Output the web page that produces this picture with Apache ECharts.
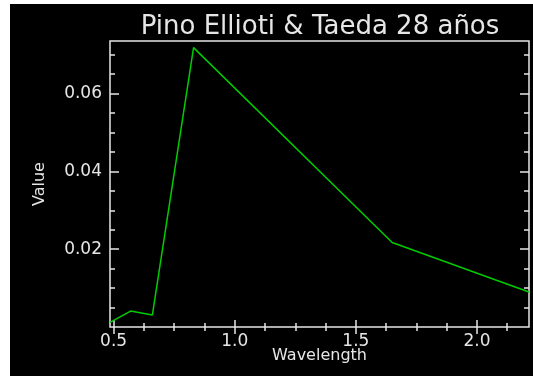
<!DOCTYPE html>
<html>
<head>
<meta charset="utf-8">
<script src="https://cdn.jsdelivr.net/npm/echarts@6/dist/echarts.min.js"></script>
<style>
  html, body { margin: 0; padding: 0; background: #fff; }
  .chart { position: absolute; left: 10px; top: 4px; width: 523px; height: 372px; background: #000; }
</style>
</head>
<body>
<div class="chart"></div>
<script>
// 数据
var wavelength = [0.485, 0.57, 0.66, 0.83, 1.65, 2.215];
var value = [0.0012, 0.0041, 0.0031, 0.0718, 0.0217, 0.0090];
// 刻度
var xTicks = [0.5, 1.0, 1.5, 2.0];
var xMinorTicks = [0.625, 0.75, 0.875, 1.125, 1.25, 1.375, 1.625, 1.75, 1.875, 2.125];
var yTicks = [0.02, 0.04, 0.06];
var yMinorTicks = [0.005, 0.01, 0.015, 0.025, 0.03, 0.035, 0.045, 0.05, 0.055, 0.065, 0.07];

(function() {
    var myChart = echarts.init(document.querySelector(".chart"));
    var fg = "#e6e6e6";
    var font = "DejaVu Sans";
    var xMin = 0.485, xMax = 2.215, yMin = 0, yMax = 0.0735;

    // 生成一根只画刻度的坐标轴
    function xAx(pos, ticks, len, labels) {
      return {
        type: "value", position: pos, min: xMin, max: xMax,
        axisLine: { show: false },
        splitLine: { show: false },
        axisTick: { show: true, inside: true, length: len, customValues: ticks,
          lineStyle: { color: fg, width: 1.5 } },
        axisLabel: labels ? {
          show: true, customValues: labels, color: fg, fontFamily: font, fontSize: 17, margin: 6,
          formatter: function(v) { return v.toFixed(1); }
        } : { show: false }
      };
    }
    function yAx(pos, ticks, len, labels) {
      return {
        type: "value", position: pos, min: yMin, max: yMax,
        axisLine: { show: false },
        splitLine: { show: false },
        axisTick: { show: true, inside: true, length: len, customValues: ticks,
          lineStyle: { color: fg, width: 1.5 } },
        axisLabel: labels ? {
          show: true, customValues: labels, color: fg, fontFamily: font, fontSize: 17, margin: 8,
          formatter: function(v) { return v.toFixed(2); }
        } : { show: false }
      };
    }

    // 底部x轴带名称（名称紧贴刻度标签）
    var xBottom = xAx("bottom", xTicks, 7, xTicks);
    xBottom.name = "Wavelength";
    xBottom.nameLocation = "middle";
    xBottom.nameGap = 21;
    xBottom.nameMoveOverlap = false;
    xBottom.nameTextStyle = { color: fg, fontFamily: font, fontSize: 16, verticalAlign: "top" };

    // 左侧y轴带名称
    var yLeft = yAx("left", yTicks, 9, yTicks);
    yLeft.name = "Value";
    yLeft.nameLocation = "middle";
    yLeft.nameGap = 62;
    yLeft.nameTextStyle = { color: fg, fontFamily: font, fontSize: 16 };

    var option = {
      backgroundColor: "#000",
      animation: false,
      title: {
        text: "Pino Ellioti & Taeda 28 años",
        left: 305, top: 5, textAlign: "center",
        textStyle: { color: fg, fontFamily: font, fontSize: 26, fontWeight: "normal" }
      },
      grid: {
        left: 100, right: 4, top: 37, bottom: 49,
        show: true, borderColor: fg, borderWidth: 1.5, backgroundColor: "transparent"
      },
      xAxis: [
        xBottom,
        xAx("bottom", xMinorTicks, 4),
        xAx("top", xTicks, 7),
        xAx("top", xMinorTicks, 4)
      ],
      yAxis: [
        yLeft,
        yAx("left", yMinorTicks, 5),
        yAx("right", yTicks, 9),
        yAx("right", yMinorTicks, 5)
      ],
      series: [
        {
          type: "line",
          xAxisIndex: 0, yAxisIndex: 0,
          data: wavelength.map(function(w, i) { return [w, value[i]]; }),
          showSymbol: false,
          lineStyle: { color: "#00cc00", width: 1.5 }
        }
      ]
    };
    myChart.setOption(option);
    window.addEventListener("resize", function() {
      myChart.resize();
    });
})();
</script>
</body>
</html>
